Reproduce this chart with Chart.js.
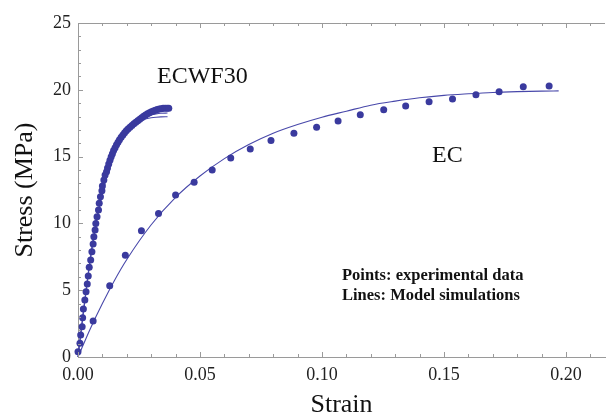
<!DOCTYPE html>
<html>
<head>
<meta charset="utf-8">
<script src="https://cdn.jsdelivr.net/npm/chart.js@4/dist/chart.umd.min.js"></script>
<style>
    html, body { margin: 0; padding: 0; background: #fff; }
    #wrap { width: 609px; height: 414px; }
</style>
</head>
<body>
<div id="wrap"><canvas id="StressStrainChart"></canvas></div>
<script>
// ECWF30 experimental points (strain, stress MPa)
var ecwfStrain = [0.0000, 0.0008, 0.0011, 0.0017, 0.0019, 0.0022, 0.0028, 0.0033, 0.0038, 0.0042,
    0.0046, 0.0052, 0.0057, 0.0062, 0.0065, 0.0070, 0.0073, 0.0078, 0.0084, 0.0087,
    0.0092, 0.0098, 0.0100, 0.0106, 0.0111, 0.0117, 0.0121, 0.0126, 0.0131, 0.0136,
    0.0141, 0.0146, 0.0152, 0.0158, 0.0164, 0.0170, 0.0177, 0.0184, 0.0191, 0.0198,
    0.0205, 0.0213, 0.0221, 0.0229, 0.0237, 0.0245, 0.0253, 0.0261, 0.0269, 0.0277,
    0.0285, 0.0293, 0.0301, 0.0309, 0.0317, 0.0325, 0.0333, 0.0341, 0.0349, 0.0357,
    0.0365, 0.0372];
var ecwfStress = [0.40, 1.02, 1.65, 2.27, 2.94, 3.59, 4.27, 4.89, 5.46, 6.06,
    6.71, 7.26, 7.88, 8.46, 9.00, 9.50, 10.00, 10.50, 11.00, 11.50,
    12.00, 12.45, 12.80, 13.25, 13.62, 13.87, 14.15, 14.45, 14.72, 14.98,
    15.22, 15.45, 15.67, 15.88, 16.08, 16.27, 16.45, 16.62, 16.78, 16.93,
    17.07, 17.20, 17.33, 17.45, 17.57, 17.68, 17.80, 17.91, 18.02, 18.12,
    18.21, 18.29, 18.36, 18.42, 18.47, 18.52, 18.56, 18.59, 18.61, 18.62,
    18.62, 18.61];

// EC experimental points
var ecStrain = [0.0062, 0.0130, 0.0194, 0.0260, 0.0330, 0.0400, 0.0476, 0.0550, 0.0626, 0.0706,
    0.0791, 0.0885, 0.0978, 0.1066, 0.1157, 0.1253, 0.1343, 0.1439, 0.1535, 0.1631,
    0.1726, 0.1825, 0.1931];
var ecStress = [2.69, 5.34, 7.61, 9.45, 10.75, 12.13, 13.08, 14.00, 14.90, 15.57,
    16.20, 16.74, 17.19, 17.66, 18.14, 18.51, 18.79, 19.11, 19.31, 19.63,
    19.86, 20.23, 20.28];

// model simulations
var ecwfModelStrain = [0, 0.002, 0.004, 0.006, 0.008, 0.010, 0.012, 0.014, 0.016, 0.018,
    0.020, 0.022, 0.024, 0.026, 0.028, 0.030, 0.032, 0.034, 0.0367];
var ecwfModelLow = [0, 3.0, 5.9, 8.4, 10.5, 12.2, 13.6, 14.7, 15.6, 16.3,
    16.8, 17.2, 17.5, 17.7, 17.83, 17.91, 17.95, 17.97, 17.98];
var ecwfModelHigh = [0, 3.1, 6.0, 8.6, 10.7, 12.4, 13.8, 14.9, 15.8, 16.5,
    17.0, 17.4, 17.7, 17.9, 18.05, 18.14, 18.20, 18.24, 18.26];

var ecModelStrain = [0, 0.005, 0.01, 0.015, 0.02, 0.03, 0.04, 0.05, 0.06, 0.07,
    0.08, 0.09, 0.10, 0.11, 0.12, 0.13, 0.14, 0.15, 0.16, 0.17,
    0.18, 0.19, 0.197];
var ecModelStress = [0, 2.1, 4.0, 5.75, 7.3, 9.9, 11.95, 13.55, 14.85, 15.9,
    16.75, 17.4, 17.95, 18.4, 18.85, 19.15, 19.4, 19.58, 19.7, 19.8,
    19.86, 19.9, 19.92];

var xTicks = [0, 0.05, 0.10, 0.15, 0.20];
var yTicks = [0, 5, 10, 15, 20, 25];

var markColor = 'rgb(58, 58, 158)';
var lineColor = 'rgb(72, 72, 170)';
var frameColor = '#9a9a9a';
var serif = '"Liberation Serif", "DejaVu Serif", serif';

function toPoints(xs, ys) {
    return xs.map(function (x, i) { return { x: x, y: ys[i] }; });
}

function pointSet(label, xs, ys) {
    return {
        label: label,
        data: toPoints(xs, ys),
        showLine: false,
        pointRadius: 3.5,
        pointBackgroundColor: markColor,
        pointBorderWidth: 0,
        clip: 6,
        order: 1
    };
}

function lineSet(label, xs, ys) {
    return {
        label: label,
        data: toPoints(xs, ys),
        showLine: true,
        pointRadius: 0,
        borderColor: lineColor,
        borderWidth: 1.1,
        cubicInterpolationMode: 'monotone',
        clip: 6,
        order: 2
    };
}

// inward frame ticks + top frame line, like the original plot
var frameTicks = {
    id: 'frameTicks',
    afterDraw: function (chart) {
        var ctx = chart.ctx, a = chart.chartArea;
        var xs = chart.scales.x, ys = chart.scales.y;
        ctx.save();
        ctx.strokeStyle = frameColor;
        ctx.lineWidth = 1;
        ctx.beginPath();
        ctx.moveTo(a.left, a.top + 0.5);
        ctx.lineTo(a.right, a.top + 0.5);
        var i, px, len;
        for (i = 0; i <= 21; i++) {
            px = Math.round(xs.getPixelForValue(i * 0.01)) + 0.5;
            len = (i % 5 === 0) ? 5 : 3;
            ctx.moveTo(px, a.bottom);
            ctx.lineTo(px, a.bottom - len);
            ctx.moveTo(px, a.top);
            ctx.lineTo(px, a.top + len);
        }
        for (i = 0; i <= 25; i++) {
            px = Math.round(ys.getPixelForValue(i)) + 0.5;
            len = (i % 5 === 0) ? 5 : 3;
            ctx.moveTo(a.left, px);
            ctx.lineTo(a.left + len, px);
        }
        ctx.stroke();

        // text labels
        ctx.fillStyle = '#111';
        ctx.textBaseline = 'alphabetic';
        ctx.textAlign = 'left';
        ctx.font = '24px ' + serif;
        ctx.fillText('ECWF30', 157, 83);
        ctx.fillText('EC', 432, 162);
        ctx.font = 'bold 16.5px ' + serif;
        ctx.fillText('Points: experimental data', 342, 280);
        ctx.fillText('Lines: Model simulations', 342, 300);
        ctx.restore();
    }
};

var ctx = document.getElementById('StressStrainChart').getContext('2d');
window.MyStressChart = new Chart(ctx, {
    type: 'scatter',
    data: {
        datasets: [
            pointSet('ECWF30 points', ecwfStrain, ecwfStress),
            pointSet('EC points', ecStrain, ecStress),
            lineSet('ECWF30 model a', ecwfModelStrain, ecwfModelLow),
            lineSet('ECWF30 model b', ecwfModelStrain, ecwfModelHigh),
            lineSet('EC model', ecModelStrain, ecModelStress)
        ]
    },
    options: {
        responsive: true,
        maintainAspectRatio: false,
        animation: false,
        layout: { padding: { top: 23, right: 0, left: 0, bottom: 0 } },
        plugins: {
            legend: { display: false },
            tooltip: { enabled: false }
        },
        scales: {
            x: {
                type: 'linear',
                min: 0,
                max: 0.216,
                afterFit: function (scale) { scale.height = 57; },
                afterBuildTicks: function (scale) {
                    scale.ticks = xTicks.map(function (v) { return { value: v }; });
                },
                grid: { display: false, drawTicks: false },
                border: { display: true, color: frameColor, width: 1 },
                ticks: {
                    padding: 7,
                    autoSkip: false,
                    maxRotation: 0,
                    color: '#222',
                    font: { family: serif, size: 18 },
                    callback: function (v) { return Number(v).toFixed(2); }
                },
                title: {
                    display: true,
                    text: 'Strain',
                    color: '#111',
                    font: { family: serif, size: 26, lineHeight: 1 },
                    padding: { top: 0, bottom: -4 }
                }
            },
            y: {
                type: 'linear',
                min: 0,
                max: 25,
                afterFit: function (scale) { scale.width = 78; },
                afterBuildTicks: function (scale) {
                    scale.ticks = yTicks.map(function (v) { return { value: v }; });
                },
                grid: { display: false, drawTicks: false },
                border: { display: true, color: frameColor, width: 1 },
                ticks: {
                    padding: 7,
                    autoSkip: false,
                    color: '#222',
                    font: { family: serif, size: 18 },
                    callback: function (v) { return String(v); }
                },
                title: {
                    display: true,
                    text: 'Stress (MPa)',
                    color: '#111',
                    font: { family: serif, size: 26, lineHeight: 1 },
                    padding: { top: 12, bottom: 0 }
                }
            }
        }
    },
    plugins: [frameTicks]
});
</script>
</body>
</html>
